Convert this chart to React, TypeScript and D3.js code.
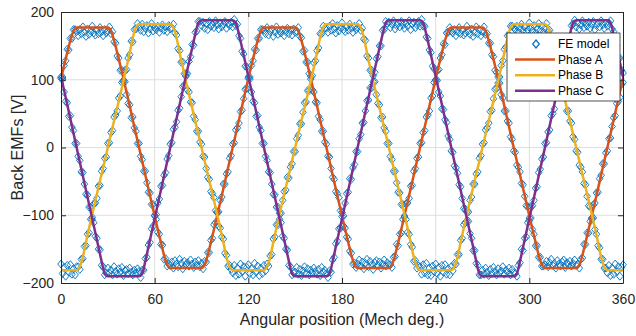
import { useEffect, useRef } from 'react';
import * as d3 from 'd3';

const xTicks = [0, 60, 120, 180, 240, 300, 360];
const yTicks = [-200, -100, 0, 100, 200];

// FE model samples, one per mech. degree from 0 to 360
const feAngles = d3.range(0, 361);
const feA = [
  104, 104, 121, 128, 145, 144, 161, 161, 174, 174,
  171, 165, 174, 168, 178, 170, 164, 175, 167, 172, 179, 169, 166, 173, 168, 177, 171, 165, 174, 169, 172,
  178, 168, 171, 156, 154, 135, 132, 114, 114, 97, 97, 78, 65, 63, 44, 45, 29, 24, 6, 6,
  -13, -18, -35, -35, -52, -66, -67, -84, -84, -101, -106, -125, -128, -143, -144, -165, -164, -175, -172,
  -174, -169, -178, -167, -172, -176, -165, -171, -179, -168, -173, -170, -175, -166, -172, -177, -169, -174, -167, -176, -171,
  -179, -168, -169, -155, -155, -137, -134, -114, -111, -95, -95, -78, -73, -54, -54, -39, -36, -16, -12, 5,
  7, 26, 29, 36, 53, 55, 72, 86, 87, 104, 104, 121, 128, 145, 144, 161, 161, 174, 174,
  173, 168, 177, 166, 171, 175, 164, 170, 178, 167, 172, 169, 174, 165, 171, 176, 168, 173, 166, 175, 170,
  172, 177, 164, 162, 142, 143, 126, 126, 109, 105, 85, 82, 67, 66, 46, 41, 24, 24, 8, 5,
  -13, -14, -31, -44, -47, -65, -68, -74, -93, -96, -116, -119, -132, -135, -153, -156, -172, -171, -177,
  -172, -166, -175, -169, -179, -171, -165, -176, -168, -173, -180, -170, -167, -174, -169, -178, -172, -166, -175, -170, -173,
  -173, -177, -162, -161, -143, -145, -128, -126, -106, -103, -83, -82, -75, -57, -56, -35, -31, -16, -14, 6,
  7, 22, 25, 45, 48, 54, 73, 76, 96, 99, 114, 115, 132, 137, 153, 152, 169, 170, 177,
  172, 169, 174, 165, 171, 177, 168, 173, 166, 169, 179, 172, 167, 175, 164, 170, 178, 168, 174, 165, 171,
  178, 167, 168, 154, 154, 137, 134, 114, 111, 95, 95, 78, 73, 54, 54, 39, 36, 16, 12, -5,
  -7, -26, -29, -36, -53, -55, -72, -86, -87, -104, -104, -121, -128, -145, -145, -162, -162, -175, -175,
  -173, -168, -176, -170, -165, -174, -171, -178, -167, -172, -175, -169, -166, -177, -170, -173, -168, -175, -171, -166, -174,
  -173, -178, -165, -163, -143, -143, -126, -126, -109, -105, -85, -82, -67, -66, -46, -41, -24, -24, -8, -5,
  13, 14, 31, 44, 47, 65, 68, 74, 93, 96,
];
const feB = [
  -172, -186, -177, -190, -174, -184, -173, -187, -179, -188, -176,
  -176, -180, -165, -164, -146, -145, -128, -126, -106, -103, -83, -82, -75, -57, -56, -35, -31, -16, -14,
  6, 7, 22, 25, 45, 48, 54, 73, 76, 96, 99, 114, 115, 132, 137, 157, 156, 174, 175, 183,
  178, 173, 182, 171, 176, 180, 169, 175, 183, 172, 177, 174, 179, 170, 176, 181, 173, 178, 171, 180, 175,
  177, 182, 169, 166, 146, 143, 126, 126, 109, 105, 85, 82, 67, 66, 46, 41, 24, 24, 8, 5,
  -13, -14, -31, -44, -47, -65, -68, -74, -93, -96, -116, -119, -132, -135, -156, -159, -175, -174, -180,
  -185, -174, -189, -178, -187, -172, -183, -176, -190, -177, -173, -186, -179, -188, -171, -184, -175, -189, -178, -186, -174,
  -182, -172, -175, -160, -158, -135, -132, -114, -114, -97, -97, -78, -65, -63, -44, -45, -29, -24, -6, -6,
  13, 18, 35, 35, 52, 66, 67, 84, 84, 101, 106, 125, 128, 143, 147, 168, 168, 179, 176,
  176, 170, 179, 173, 183, 175, 169, 180, 172, 177, 184, 174, 171, 178, 173, 182, 176, 170, 179, 174, 177,
  183, 173, 176, 160, 158, 135, 132, 114, 114, 97, 97, 78, 65, 63, 44, 45, 29, 24, 6, 6,
  -13, -18, -35, -35, -52, -66, -67, -84, -84, -101, -106, -125, -128, -143, -147, -168, -167, -178, -175,
  -176, -187, -173, -185, -171, -188, -178, -189, -175, -183, -172, -186, -177, -190, -174, -184, -173, -187, -179, -188, -176,
  -182, -171, -172, -158, -158, -137, -134, -114, -111, -95, -95, -78, -73, -54, -54, -39, -36, -16, -12, 5,
  7, 26, 29, 36, 53, 55, 72, 86, 87, 104, 104, 121, 128, 145, 148, 165, 166, 179, 179,
  177, 174, 179, 170, 176, 182, 173, 178, 171, 174, 184, 177, 172, 180, 169, 175, 183, 173, 179, 170, 176,
  183, 172, 173, 158, 158, 137, 134, 114, 111, 95, 95, 78, 73, 54, 54, 39, 36, 16, 12, -5,
  -7, -26, -29, -36, -53, -55, -72, -86, -87, -104, -104, -121, -128, -145, -148, -165, -165, -178, -178,
  -185, -174, -189, -178, -187, -172, -183, -176, -190, -177, -173,
];
const feC = [
  102, 101, 82, 68, 66, 46, 47, 30, 25, 6, 6, -13, -19, -36, -37, -54, -69, -70, -88, -88,
  -106, -111, -131, -134, -150, -151, -174, -176, -188, -185,
  -178, -185, -181, -188, -176, -183, -187, -179, -184, -177, -189, -182, -180, -186, -178, -184, -188, -181, -185, -179, -183,
  -192, -181, -181, -164, -162, -144, -140, -120, -116, -100, -99, -82, -76, -57, -56, -41, -37, -17, -12, 5,
  7, 27, 30, 38, 55, 58, 75, 90, 91, 109, 109, 127, 134, 152, 151, 170, 172, 186, 186,
  180, 185, 176, 183, 174, 186, 179, 182, 177, 187, 181, 175, 184, 178, 182, 186, 176, 183, 180, 185, 178,
  189, 180, 182, 165, 161, 142, 138, 120, 119, 102, 101, 82, 68, 66, 46, 47, 30, 25, 6, 6,
  -13, -19, -36, -37, -54, -69, -70, -88, -88, -106, -111, -131, -134, -150, -151, -174, -176, -188, -185,
  -184, -177, -187, -180, -189, -182, -176, -186, -179, -188, -181, -185, -178, -183, -187, -180, -189, -177, -184, -181, -186,
  -192, -182, -184, -166, -162, -142, -138, -120, -119, -102, -101, -82, -68, -66, -46, -47, -30, -25, -6, -6,
  13, 19, 36, 37, 54, 69, 70, 88, 88, 106, 111, 131, 134, 150, 150, 173, 174, 186, 183,
  185, 177, 182, 187, 175, 180, 184, 178, 186, 181, 176, 183, 179, 187, 174, 182, 185, 177, 181, 186, 179,
  189, 179, 179, 163, 161, 144, 140, 120, 116, 100, 99, 82, 76, 57, 56, 41, 37, 17, 12, -5,
  -7, -27, -30, -38, -55, -58, -75, -90, -91, -109, -109, -127, -134, -152, -152, -171, -174, -188, -188,
  -181, -187, -178, -184, -189, -180, -186, -177, -183, -188, -179, -185, -182, -176, -187, -181, -184, -178, -188, -180, -185,
  -186, -190, -174, -170, -150, -152, -134, -132, -111, -108, -87, -86, -78, -60, -58, -37, -32, -17, -14, 6,
  7, 23, 26, 47, 50, 57, 76, 80, 100, 104, 119, 121, 138, 144, 160, 161, 180, 182, 188,
  178, 184, 175, 181, 187, 177, 183, 179, 185, 176, 182, 186, 174, 180, 184, 178, 187, 181, 176, 183, 179,
  184, 187, 175, 171, 149, 150, 132, 132, 114, 110,
];

// phase curves, [angle, value] knots
const phaseA: [number, number][] = [
  [-30, -178], [-28, -173], [-26, -159], [-24, -140], [-10, 0], [4, 140], [6, 158], [8, 172], [10, 177],
  [30, 177], [32, 172], [34, 158], [36, 140], [50, 0], [64, -140], [66, -159], [68, -173], [70, -178],
  [90, -178], [92, -173], [94, -159], [96, -140], [110, 0], [124, 140], [126, 158], [128, 172], [130, 177],
  [150, 177], [152, 172], [154, 158], [156, 140], [170, 0], [184, -140], [186, -159], [188, -173], [190, -178],
  [210, -178], [212, -173], [214, -159], [216, -140], [230, 0], [244, 140], [246, 158], [248, 172], [250, 177],
  [270, 177], [272, 172], [274, 158], [276, 140], [290, 0], [304, -140], [306, -159], [308, -173], [310, -178],
  [330, -178], [332, -173], [334, -159], [336, -140], [350, 0], [364, 140], [366, 158], [368, 172], [370, 177],
];
const phaseB: [number, number][] = [
  [-10, -181], [10, -181], [12, -176], [14, -162], [16, -140], [30, 0], [44, 140], [46, 162], [48, 177], [50, 182],
  [70, 182], [72, 177], [74, 162], [76, 140], [90, 0], [104, -140], [106, -162], [108, -176], [110, -181],
  [130, -181], [132, -176], [134, -162], [136, -140], [150, 0], [164, 140], [166, 162], [168, 177], [170, 182],
  [190, 182], [192, 177], [194, 162], [196, 140], [210, 0], [224, -140], [226, -162], [228, -176], [230, -181],
  [250, -181], [252, -176], [254, -162], [256, -140], [270, 0], [284, 140], [286, 162], [288, 177], [290, 182],
  [310, 182], [312, 177], [314, 162], [316, 140], [330, 0], [344, -140], [346, -162], [348, -176], [350, -181],
  [370, -181],
];
const phaseC: [number, number][] = [
  [-30, 188], [-10, 188], [-8, 184], [-6, 167], [-4, 147], [10, 0], [24, -147], [26, -168], [28, -186], [30, -190],
  [50, -190], [52, -186], [54, -168], [56, -147], [70, 0], [84, 147], [86, 167], [88, 184], [90, 188],
  [110, 188], [112, 184], [114, 167], [116, 147], [130, 0], [144, -147], [146, -168], [148, -186], [150, -190],
  [170, -190], [172, -186], [174, -168], [176, -147], [190, 0], [204, 147], [206, 167], [208, 184], [210, 188],
  [230, 188], [232, 184], [234, 167], [236, 147], [250, 0], [264, -147], [266, -168], [268, -186], [270, -190],
  [290, -190], [292, -186], [294, -168], [296, -147], [310, 0], [324, 147], [326, 167], [328, 184], [330, 188],
  [350, 188], [352, 184], [354, 167], [356, 147], [370, 0],
];

const feColor = '#0072BD';
const phaseColors = ['#D95319', '#EDB120', '#7E2F8E'];
const legendLabels = ['FE model', 'Phase A', 'Phase B', 'Phase C'];

export default function App() {
  const svgRef = useRef<SVGSVGElement>(null);

  useEffect(() => {
    if (!svgRef.current) return;
    const width = 636;
    const height = 336;
    const margin = { top: 12, right: 13, bottom: 53, left: 61 };
    const font = "'Liberation Sans', Arial, sans-serif";
    const axisColor = '#262626';

    const svg = d3.select(svgRef.current);
    svg.selectAll('*').remove();

    const x = d3.scaleLinear().domain([0, 360]).range([margin.left, width - margin.right]);
    const y = d3.scaleLinear().domain([-200, 200]).range([height - margin.bottom, margin.top]);

    svg.append('rect').attr('width', width).attr('height', height).attr('fill', '#fff');

    svg.append('clipPath').attr('id', 'plot-clip')
      .append('rect')
      .attr('x', x(0)).attr('y', y(200))
      .attr('width', x(360) - x(0)).attr('height', y(-200) - y(200));

    // Grid lines
    const grid = svg.append('g').attr('stroke', '#dedede').attr('stroke-width', 1);
    grid.selectAll('.vg')
      .data(xTicks.slice(1, -1))
      .enter()
      .append('line')
      .attr('x1', d => x(d)).attr('x2', d => x(d))
      .attr('y1', y(200)).attr('y2', y(-200));
    grid.selectAll('.hg')
      .data(yTicks.slice(1, -1))
      .enter()
      .append('line')
      .attr('y1', d => y(d)).attr('y2', d => y(d))
      .attr('x1', x(0)).attr('x2', x(360));

    // FE model markers
    const diamond = 'M0,-4L3.3,0L0,4L-3.3,0Z';
    [feA, feB, feC].forEach(vals => {
      svg.append('g')
        .selectAll('path')
        .data(vals.slice(0, feAngles.length))
        .enter()
        .append('path')
        .attr('d', diamond)
        .attr('transform', (d, i) => `translate(${x(feAngles[i])},${y(d)})`)
        .attr('fill', 'none')
        .attr('stroke', feColor)
        .attr('stroke-width', 0.9);
    });

    // Phase curves
    const line = d3.line<[number, number]>()
      .x(d => x(d[0]))
      .y(d => y(d[1]))
      .curve(d3.curveMonotoneX);

    [phaseA, phaseB, phaseC].forEach((pts, i) => {
      svg.append('path')
        .attr('clip-path', 'url(#plot-clip)')
        .attr('d', line(pts))
        .attr('fill', 'none')
        .attr('stroke', phaseColors[i])
        .attr('stroke-width', 2.5)
        .attr('stroke-linejoin', 'round');
    });

    // Axes (box with inward ticks)
    const styleAxis = (g: d3.Selection<SVGGElement, unknown, null, undefined>) => {
      g.selectAll('.domain, .tick line').attr('stroke', axisColor);
      g.selectAll('text')
        .attr('fill', axisColor)
        .style('font-family', font)
        .style('font-size', '14px');
    };

    svg.append('g')
      .attr('transform', `translate(0,${y(-200)})`)
      .call(d3.axisBottom(x).tickValues(xTicks).tickSizeInner(-5).tickSizeOuter(0).tickPadding(11))
      .call(styleAxis);
    svg.append('g')
      .attr('transform', `translate(0,${y(200)})`)
      .call(d3.axisTop(x).tickValues(xTicks).tickSizeInner(-5).tickSizeOuter(0).tickFormat(() => ''))
      .call(styleAxis);
    svg.append('g')
      .attr('transform', `translate(${x(0)},0)`)
      .call(d3.axisLeft(y).tickValues(yTicks).tickSizeInner(-5).tickSizeOuter(0).tickPadding(7))
      .call(styleAxis);
    svg.append('g')
      .attr('transform', `translate(${x(360)},0)`)
      .call(d3.axisRight(y).tickValues(yTicks).tickSizeInner(-5).tickSizeOuter(0).tickFormat(() => ''))
      .call(styleAxis);

    // Axis labels
    svg.append('text')
      .attr('x', (x(0) + x(360)) / 2)
      .attr('y', 325)
      .attr('text-anchor', 'middle')
      .attr('fill', axisColor)
      .style('font-family', font)
      .style('font-size', '16px')
      .text('Angular position (Mech deg.)');

    svg.append('text')
      .attr('transform', `translate(23,${(y(200) + y(-200)) / 2}) rotate(-90)`)
      .attr('text-anchor', 'middle')
      .attr('fill', axisColor)
      .style('font-family', font)
      .style('font-size', '16px')
      .text('Back EMFs [V]');

    // Legend
    const legend = svg.append('g').attr('transform', 'translate(507,33)');
    legend.append('rect')
      .attr('width', 113)
      .attr('height', 68)
      .attr('fill', '#fff')
      .attr('stroke', axisColor)
      .attr('stroke-width', 0.8);

    legendLabels.forEach((label, i) => {
      const cy = 11 + i * 15.6;
      if (i === 0) {
        legend.append('path')
          .attr('d', diamond)
          .attr('transform', `translate(29,${cy})`)
          .attr('fill', 'none')
          .attr('stroke', feColor)
          .attr('stroke-width', 1.2);
      } else {
        legend.append('line')
          .attr('x1', 8).attr('x2', 48)
          .attr('y1', cy).attr('y2', cy)
          .attr('stroke', phaseColors[i - 1])
          .attr('stroke-width', 2.5);
      }
      legend.append('text')
        .attr('x', 51)
        .attr('y', cy + 4)
        .attr('fill', '#000')
        .style('font-family', font)
        .style('font-size', '12px')
        .text(label);
    });
  }, []);

  return (
    <svg
      ref={svgRef}
      width={636}
      height={336}
      style={{ position: 'absolute', left: 0, top: 0 }}
    ></svg>
  );
}
